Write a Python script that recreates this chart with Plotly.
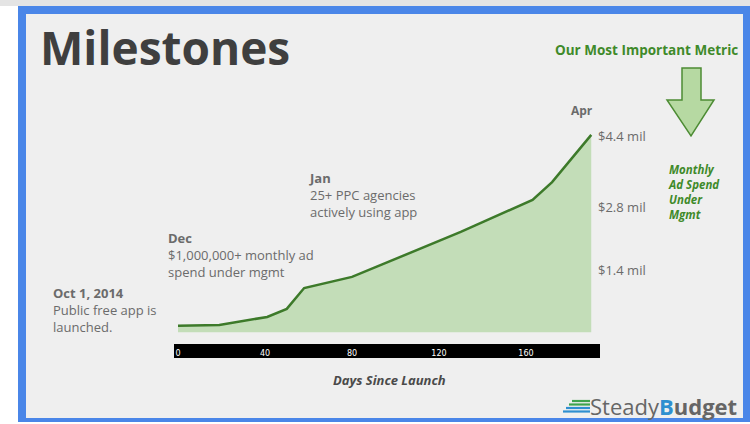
import plotly.graph_objects as go

# ---- data ----
days = [0, 19, 41, 50, 58, 80, 130, 163, 172, 190]
spend_mil = [0.15, 0.17, 0.35, 0.53, 1.0, 1.25, 2.26, 2.98, 3.38, 4.44]
x_ticks = [0, 40, 80, 120, 160]
y_ticks = [1.4, 2.8, 4.4]
y_tick_labels = ["$1.4 mil", "$2.8 mil", "$4.4 mil"]
metric_lines = ["Monthly", "Ad Spend", "Under", "Mgmt"]

W, H = 750, 424


def px(x):
    return x / W


def py(y):
    return 1 - y / H


fig = go.Figure()
fig.add_trace(go.Scatter(
    x=days, y=spend_mil, mode="lines", fill="tozeroy",
    line=dict(color="#3d7a2a", width=2.5),
    fillcolor="#c3ddb8", hoverinfo="skip", showlegend=False,
))

shapes = [
    # top grey strip
    dict(type="rect", xref="paper", yref="paper", x0=0, x1=1, y0=py(6), y1=1,
         fillcolor="#e4e4e4", line_width=0, layer="below"),
    # blue frame
    dict(type="rect", xref="paper", yref="paper", x0=px(18), x1=1, y0=py(422), y1=py(6),
         fillcolor="#4a86e8", line_width=0, layer="below"),
    # slide background
    dict(type="rect", xref="paper", yref="paper", x0=px(26), x1=px(743), y0=py(418), y1=py(14),
         fillcolor="#efefef", line_width=0, layer="below"),
    # black axis band
    dict(type="rect", xref="paper", yref="paper", x0=px(174), x1=px(600), y0=py(358), y1=py(344),
         fillcolor="#000000", line_width=0, layer="below"),
    # arrow
    dict(type="path", xref="paper", yref="paper",
         path=("M {a},{b} L {c},{b} L {c},{d} L {e},{d} L {f},{g} L {h},{d} L {a2},{d} Z").format(
             a=px(682), b=py(68), c=px(701), d=py(100), e=px(714), f=px(691), g=py(136),
             h=px(667), a2=px(682)),
         fillcolor="#b6d9a2", line=dict(color="#4d8c34", width=1.5)),
]
# logo stripes
stripe_specs = [(572, 590, 401, "#3fa34d"), (569, 590, 404.5, "#3fa34d"),
                (566, 590, 408, "#2f8fd0"), (563, 590, 411.5, "#2f8fd0")]
for x0, x1, yy, col in stripe_specs:
    shapes.append(dict(type="line", xref="paper", yref="paper", x0=px(x0), x1=px(x1),
                       y0=py(yy), y1=py(yy), line=dict(color=col, width=2.2)))

fig.update_layout(shapes=shapes)

dark = "#4a4a4a"
grey = "#6b6b6b"
green = "#3f8a2a"


def ann(text, x, y, size, color, anchor="left", family="Open Sans"):
    fig.add_annotation(xref="paper", yref="paper", x=px(x), y=py(y), text=text,
                       showarrow=False, xanchor=anchor, yanchor="middle",
                       font=dict(family=family, size=size, color=color), align="left")


ann("<b>Milestones</b>", 38, 47, 46, "#3f3f3f")
ann("<b>Our Most Important Metric</b>", 740, 50, 13.5, green, anchor="right")
ann("<b><i>" + "<br>".join(metric_lines) + "</i></b>", 666, 192, 11.5, green)
ann("<b>Apr</b>", 569, 110, 12, grey)
ann("<b>Jan</b><br>25+ PPC agencies<br>actively using app", 307, 195, 13, grey)
ann("<b>Dec</b><br>$1,000,000+ monthly ad<br>spend under mgmt", 166, 255, 13, grey)
ann("<b>Oct 1, 2014</b><br>Public free app is<br>launched.", 51, 310, 13, grey)
ann("<b><i>Days Since Launch</i></b>", 389, 380, 13, dark, anchor="center")
ann("Steady<b><span style='color:#2f8fd0'>B</span>udget</b>", 588, 406, 22, "#666666")

x_left, x_right = 174, 594
scale_x = 2.175
x0_px = 178
y_bottom, y_top = 332.5, 90
scale_y = 44.5

fig.update_layout(
    width=W, height=H, margin=dict(l=0, r=0, t=0, b=0),
    paper_bgcolor="white", plot_bgcolor="rgba(0,0,0,0)",
    xaxis=dict(domain=[px(x_left), px(x_right)],
               range=[(x_left - x0_px) / scale_x, (x_right - x0_px) / scale_x],
               tickvals=x_ticks, ticks="outside", ticklen=13, tickcolor="rgba(0,0,0,0)",
               tickfont=dict(family="DejaVu Sans", size=8, color="white"),
               showgrid=False, zeroline=False, showline=False),
    yaxis=dict(domain=[py(y_bottom), py(y_top)],
               range=[0, (y_bottom - y_top) / scale_y], side="right",
               tickvals=y_ticks, ticktext=y_tick_labels, ticks="", ticklabelstandoff=3,
               tickfont=dict(family="Open Sans", size=13, color=grey),
               showgrid=False, zeroline=False, showline=False),
)

fig.write_html("out.html", config={"displayModeBar": False},
               post_script="document.body.style.margin='0';document.body.style.padding='0';")
